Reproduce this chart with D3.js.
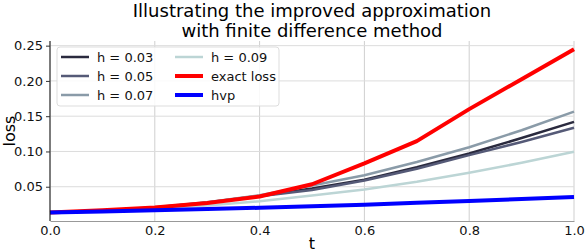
<!DOCTYPE html>
<html>
<head>
<meta charset="utf-8">
<script src="https://cdn.jsdelivr.net/npm/d3@7"></script>
<style>
  body { margin: 0; background: #fff; }
  text { font-family: "DejaVu Sans", sans-serif; }
</style>
</head>
<body>
<script>
// canvas size
const width = 586;
const height = 252;

// data
const ts = [0, 0.1, 0.2, 0.3, 0.4, 0.5, 0.6, 0.7, 0.8, 0.9, 1.0];
const h03 = [0.0135, 0.0160, 0.0205, 0.0275, 0.0370, 0.0474, 0.0600, 0.0775, 0.0970, 0.1190, 0.1420];
const h05 = [0.0135, 0.0160, 0.0203, 0.0272, 0.0365, 0.0454, 0.0588, 0.0755, 0.0948, 0.1135, 0.1337];
const h07 = [0.0135, 0.0162, 0.0208, 0.0280, 0.0379, 0.0517, 0.0663, 0.0850, 0.1060, 0.1300, 0.1565];
const h09 = [0.0135, 0.0155, 0.0190, 0.0235, 0.0293, 0.0374, 0.0460, 0.0570, 0.0697, 0.0840, 0.0995];
const exact = [0.0135, 0.0165, 0.0205, 0.0270, 0.0362, 0.0535, 0.0830, 0.1147, 0.1600, 0.2025, 0.2450];
const hvp = [0.0135, 0.0149, 0.0165, 0.0183, 0.0202, 0.0223, 0.0246, 0.0271, 0.0297, 0.0325, 0.0355];

const xTicks = [0, 0.2, 0.4, 0.6, 0.8, 1.0];
const yTicks = [0.05, 0.10, 0.15, 0.20, 0.25];

const series = [
  {label: 'h = 0.03', values: h03, color: '#2a2a3e', w: 2.5},
  {label: 'h = 0.05', values: h05, color: '#555a77', w: 2.5},
  {label: 'h = 0.07', values: h07, color: '#8a9ba8', w: 2.5},
  {label: 'h = 0.09', values: h09, color: '#bcd5d5', w: 2.5},
  {label: 'exact loss', values: exact, color: '#ff0000', w: 4},
  {label: 'hvp', values: hvp, color: '#0000ff', w: 4}
];

// plot area
const padding = {left: 50, right: 12, top: 41, bottom: 31};

const xScale = d3.scaleLinear()
  .domain([0, 1])
  .range([padding.left, width - padding.right]);

const yScale = d3.scaleLinear()
  .domain([0.0014, 0.2566])
  .range([height - padding.bottom, padding.top]);

const svg = d3.select('body')
  .append('svg')
  .attr('width', width)
  .attr('height', height);

// grid
svg.append('g')
  .selectAll('line')
  .data(xTicks)
  .enter()
  .append('line')
  .attr('x1', d => xScale(d))
  .attr('x2', d => xScale(d))
  .attr('y1', padding.top)
  .attr('y2', height - padding.bottom)
  .attr('stroke', '#cfcfcf')
  .attr('stroke-width', 1);

svg.append('g')
  .selectAll('line')
  .data(yTicks)
  .enter()
  .append('line')
  .attr('x1', padding.left)
  .attr('x2', width - padding.right)
  .attr('y1', d => yScale(d))
  .attr('y2', d => yScale(d))
  .attr('stroke', '#dcdcdc')
  .attr('stroke-width', 1);

// lines
const line = d3.line()
  .x((d, i) => xScale(ts[i]))
  .y(d => yScale(d));

svg.append('g')
  .selectAll('path')
  .data(series)
  .enter()
  .append('path')
  .attr('d', d => line(d.values))
  .attr('fill', 'none')
  .attr('stroke', d => d.color)
  .attr('stroke-width', d => d.w)
  .attr('stroke-linejoin', 'round');

// axes
const xAxis = d3.axisBottom(xScale)
  .tickValues(xTicks)
  .tickFormat(d3.format('.1f'))
  .tickSize(0)
  .tickPadding(5);

const yAxis = d3.axisLeft(yScale)
  .tickValues(yTicks)
  .tickFormat(d3.format('.2f'))
  .tickSize(4)
  .tickPadding(3);

const gx = svg.append('g')
  .attr('transform', 'translate(0,' + (height - padding.bottom) + ')')
  .call(xAxis);
gx.select('.domain').attr('stroke', '#999');
gx.selectAll('text').attr('font-size', 13).attr('fill', '#111');

const gy = svg.append('g')
  .attr('transform', 'translate(' + padding.left + ',0)')
  .call(yAxis);
gy.select('.domain').attr('stroke', '#111').attr('d', 'M0,' + padding.top + 'V' + (height - padding.bottom));
gy.selectAll('.tick line').attr('stroke', '#333');
gy.selectAll('text').attr('font-size', 13).attr('fill', '#111');

// axis labels
svg.append('text')
  .attr('x', (padding.left + width - padding.right) / 2)
  .attr('y', 249)
  .attr('text-anchor', 'middle')
  .attr('font-size', 16)
  .text('t');

svg.append('text')
  .attr('transform', 'translate(15,' + ((padding.top + height - padding.bottom) / 2) + ') rotate(-90)')
  .attr('text-anchor', 'middle')
  .attr('font-size', 16)
  .text('loss');

// title
const titleX = (padding.left + width - padding.right) / 2;
svg.append('text')
  .attr('x', titleX)
  .attr('y', 17)
  .attr('text-anchor', 'middle')
  .attr('font-size', 18)
  .text('Illustrating the improved approximation');
svg.append('text')
  .attr('x', titleX)
  .attr('y', 37)
  .attr('text-anchor', 'middle')
  .attr('font-size', 18)
  .text('with finite difference method');

// legend
const legend = svg.append('g');
legend.append('rect')
  .attr('x', 57)
  .attr('y', 47)
  .attr('width', 222)
  .attr('height', 59)
  .attr('rx', 3)
  .attr('fill', 'rgba(255,255,255,0.85)')
  .attr('stroke', '#dddddd');

const items = legend.selectAll('.item')
  .data(series)
  .enter()
  .append('g')
  .attr('class', 'item')
  .attr('transform', (d, i) => 'translate(' + (i < 3 ? 61 : 175) + ',' + (57 + (i % 3) * 19) + ')');

items.append('line')
  .attr('x1', 0)
  .attr('x2', 28)
  .attr('stroke', d => d.color)
  .attr('stroke-width', d => d.w);

items.append('text')
  .attr('x', 36)
  .attr('dy', '0.35em')
  .attr('font-size', 13)
  .attr('fill', '#111')
  .text(d => d.label);
</script>
</body>
</html>
